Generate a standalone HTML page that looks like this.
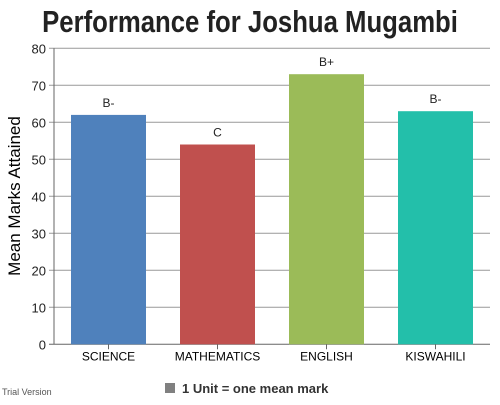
<!DOCTYPE html>
<html><head><meta charset="utf-8"><style>
body{margin:0;width:500px;height:400px;background:#fff;overflow:hidden;font-family:"Liberation Sans","DejaVu Sans",sans-serif}
</style></head><body>
<svg width="500" height="400" xmlns="http://www.w3.org/2000/svg">
<text x="250" y="32" text-anchor="middle" font-size="31" font-weight="bold" fill="#222" transform="translate(250,0) scale(0.83,1) translate(-250,0)" font-family="Liberation Sans, sans-serif">Performance for Joshua Mugambi</text>
<g id="grid"></g>
<g id="bars"></g>
<text transform="translate(20,196) rotate(-90)" text-anchor="middle" font-size="17" fill="#000">Mean Marks Attained</text>
<text x="2" y="395" font-size="9" fill="#555">Trial Version</text>
<rect x="165" y="383" width="10" height="10" fill="#808080"/>
<text x="182" y="393" font-size="13" font-weight="bold" fill="#333">1 Unit = one mean mark</text>
</svg>
<script>
const categories=["SCIENCE","MATHEMATICS","ENGLISH","KISWAHILI"];
const values=[62,54,73,63];
const grades=["B-","C","B+","B-"];
const colors=["#4f81bc","#c0504e","#9bbb58","#23bfaa"];
const yTicks=[0,10,20,30,40,50,60,70,80];
const NS="http://www.w3.org/2000/svg";
const x0=54,x1=490,yTop=48.3,yBot=344.3,yMax=80;
const y=v=>yBot-(v/yMax)*(yBot-yTop);
const cw=(x1-x0)/categories.length;
const xc=i=>x0+cw*(i+0.5);
function mk(t,a,p){const e=document.createElementNS(NS,t);for(const k in a)e.setAttribute(k,a[k]);p.appendChild(e);return e;}
const g=document.getElementById('grid'),b=document.getElementById('bars');
yTicks.forEach(v=>{
 const l=mk('line',{x1:x0-5,x2:x1,y1:y(v),y2:y(v),stroke:v===0?'#666':'#999','stroke-width':1},g);
 
 
 const t=mk('text',{x:x0-8,y:y(v)+5,'text-anchor':'end','font-size':13,fill:'#222'},g);
 t.textContent=v;
 
 
});
const ax=mk('line',{x1:x0,x2:x0,y1:yTop,y2:yBot,stroke:'#666'},g);


categories.forEach((c,i)=>{
 const bw=75;
 const r=mk('rect',{x:xc(i)-bw/2,y:y(values[i]),width:bw,height:yBot-y(values[i]),fill:colors[i]},b);
 
 
 const tk=mk('line',{x1:xc(i),x2:xc(i),y1:yBot,y2:yBot+5,stroke:'#666'},b);
 
 
 const t=mk('text',{x:xc(i),y:yBot+16,'text-anchor':'middle','font-size':12,fill:'#000'},b);
 t.textContent=c;
 
 
 const gl=mk('text',{x:xc(i),y:y(values[i])-8,'text-anchor':'middle','font-size':12,fill:'#222'},b);
 gl.textContent=grades[i];
 
 
});
</script>
</body></html>
